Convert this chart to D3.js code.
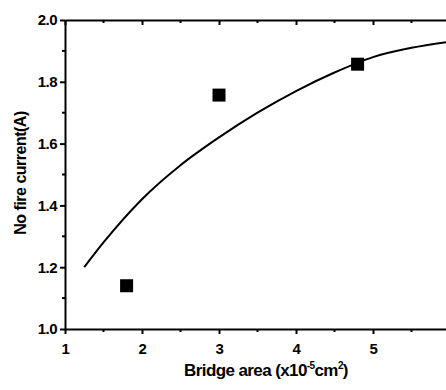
<!DOCTYPE html>
<html>
<head>
<meta charset="utf-8">
<script src="https://cdn.jsdelivr.net/npm/d3@7"></script>
<style>
  body { margin: 0; background: #fff; }
  svg { display: block; }
  text { font-family: 'Liberation Sans', Arial, sans-serif; font-weight: bold; fill: #000; }
</style>
</head>
<body>
<script>
// measured points
const areaX = [1.8, 3.0, 4.8];
const currentY = [1.14, 1.757, 1.857];
// fitted curve
const fitX = [1.25, 1.5, 2.0, 2.5, 3.0, 3.5, 4.0, 4.5, 5.0, 5.5, 6.0];
const fitY = [1.20, 1.28, 1.42, 1.53, 1.62, 1.70, 1.77, 1.83, 1.88, 1.91, 1.93];
const xTicks = [1, 2, 3, 4, 5, 6];
const yTicks = [1.0, 1.2, 1.4, 1.6, 1.8, 2.0];

const W = 446, H = 390;
const margin = {top: 20, right: -4, bottom: 61, left: 65};

const x = d3.scaleLinear().domain([1, 6]).range([margin.left, W - margin.right]);
const y = d3.scaleLinear().domain([1.0, 2.0]).range([H - margin.bottom, margin.top]);

const svg = d3.select('body').append('svg')
  .attr('width', W)
  .attr('height', H);

const xMinor = d3.range(1.5, 6, 1);
const yMinor = d3.range(1.1, 2.0, 0.2);

function styleAxis(g) {
  g.selectAll('path, line').attr('stroke', '#000').attr('stroke-width', 2);
  g.selectAll('text').style('font-size', '15px').style('letter-spacing', '-0.5px');
}

// bottom axis
svg.append('g')
  .attr('transform', 'translate(0,' + y(1.0) + ')')
  .call(d3.axisBottom(x).tickValues(xTicks).tickFormat(d3.format('d')).tickSizeInner(5).tickSizeOuter(0).tickPadding(9))
  .call(styleAxis)
  .call(g => g.append('g').selectAll('line').data(xMinor).join('line')
    .attr('x1', d => x(d)).attr('x2', d => x(d)).attr('y1', 0).attr('y2', 3)
    .attr('stroke', '#000').attr('stroke-width', 2));

// top axis
svg.append('g')
  .attr('transform', 'translate(0,' + y(2.0) + ')')
  .call(d3.axisBottom(x).tickValues(xTicks).tickFormat('').tickSizeInner(5).tickSizeOuter(0))
  .call(styleAxis)
  .call(g => g.append('g').selectAll('line').data(xMinor).join('line')
    .attr('x1', d => x(d)).attr('x2', d => x(d)).attr('y1', 0).attr('y2', 3)
    .attr('stroke', '#000').attr('stroke-width', 2));

// left axis
svg.append('g')
  .attr('transform', 'translate(' + x(1) + ',0)')
  .call(d3.axisLeft(y).tickValues(yTicks).tickFormat(d3.format('.1f')).tickSizeInner(5).tickSizeOuter(0).tickPadding(3))
  .call(styleAxis)
  .call(g => g.append('g').selectAll('line').data(yMinor).join('line')
    .attr('y1', d => y(d)).attr('y2', d => y(d)).attr('x1', 0).attr('x2', -3)
    .attr('stroke', '#000').attr('stroke-width', 2));

// right axis
svg.append('g')
  .attr('transform', 'translate(' + x(6) + ',0)')
  .call(d3.axisLeft(y).tickValues(yTicks).tickFormat('').tickSizeInner(-5).tickSizeOuter(0))
  .call(styleAxis)
  .call(g => g.append('g').selectAll('line').data(yMinor).join('line')
    .attr('y1', d => y(d)).attr('y2', d => y(d)).attr('x1', 0).attr('x2', -3)
    .attr('stroke', '#000').attr('stroke-width', 2));

// fit curve
const line = d3.line()
  .x(d => x(d[0]))
  .y(d => y(d[1]))
  .curve(d3.curveMonotoneX);

svg.append('path')
  .datum(d3.zip(fitX, fitY))
  .attr('fill', 'none')
  .attr('stroke', '#000')
  .attr('stroke-width', 2)
  .attr('d', line);

// data squares
const s = 13;
svg.append('g').selectAll('rect')
  .data(d3.zip(areaX, currentY))
  .join('rect')
  .attr('x', d => x(d[0]) - s / 2)
  .attr('y', d => y(d[1]) - s / 2)
  .attr('width', s)
  .attr('height', s)
  .attr('fill', '#000');

// axis titles
const xt = svg.append('text')
  .attr('x', 266)
  .attr('y', 376)
  .attr('text-anchor', 'middle')
  .style('font-size', '17px')
  .style('letter-spacing', '-0.6px');
xt.append('tspan').text('Bridge area (x10');
xt.append('tspan').attr('dy', -7).style('font-size', '10px').text('-5');
xt.append('tspan').attr('dy', 7).text('cm');
xt.append('tspan').attr('dy', -7).style('font-size', '10px').text('2');
xt.append('tspan').attr('dy', 7).text(')');

svg.append('text')
  .attr('transform', 'translate(26,' + 173 + ') rotate(-90)')
  .attr('text-anchor', 'middle')
  .style('font-size', '16px')
  .style('letter-spacing', '-0.5px')
  .text('No fire current(A)');
</script>
</body>
</html>
